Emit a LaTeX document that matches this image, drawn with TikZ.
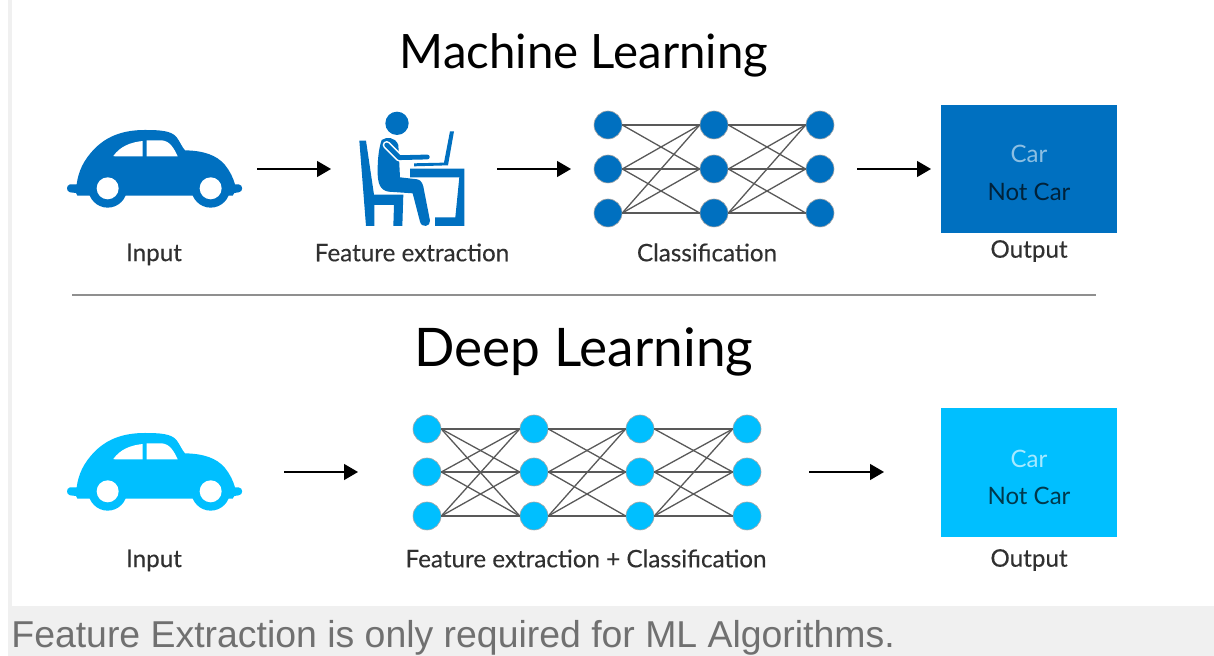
\documentclass[tikz,border=0pt]{standalone}
\usepackage{fontspec}
\usetikzlibrary{arrows.meta}
\setmainfont{Lato}
\newfontfamily\capfont{Liberation Sans}
\newfontfamily\labelfont[FakeBold=0.25]{Lato}
\definecolor{mlblue}{HTML}{0070C0}
\definecolor{dlblue}{HTML}{00BFFF}
\definecolor{bandgray}{HTML}{F0F0F0}
\definecolor{capgray}{HTML}{707070}
\definecolor{inktext}{HTML}{303030}
\tikzset{
  x=0.5pt,y=-0.5pt,
  titletext/.style={font=\fontsize{23.7}{28}\selectfont,text=black,inner sep=0pt},
  labeltext/.style={font=\labelfont\fontsize{12.1}{14}\selectfont,text=inktext,inner sep=0pt},
  boxtext/.style={font=\fontsize{12}{14}\selectfont,inner sep=0pt},
  netedge/.style={draw=black!65,line width=0.65pt},
  flow/.style={draw=black,line width=0.65pt,-{Triangle[length=7pt,width=8pt]}},
  mlnode/.style={circle,fill=mlblue,draw=black!35,line width=0.3pt,minimum size=14pt,inner sep=0pt},
  dlnode/.style={circle,fill=dlblue,draw=black!35,line width=0.3pt,minimum size=14pt,inner sep=0pt},
  outbox/.style={minimum width=88pt,minimum height=64pt,inner sep=0pt},
  pics/car/.style={code={
    \begin{scope}[x=0.5pt/3,y=-0.5pt/3]
    \fill[#1] (60,283) -- (80,283) .. controls (85,245) and (100,210) .. (135,175)
      .. controls (175,135) and (225,120) .. (285,120)
      .. controls (330,120) and (365,122) .. (380,142)
      .. controls (390,155) and (395,170) .. (405,181)
      .. controls (460,182) and (500,195) .. (525,225)
      .. controls (540,243) and (550,265) .. (555,283)
      -- (566,283) .. controls (580,284) and (580,306) .. (566,307)
      -- (553,309) -- (548,317) -- (82,317) -- (78,309) -- (60,307)
      .. controls (48,304) and (48,286) .. (60,283) -- cycle;
    \fill[#1] (173,295) circle[radius=58*0.5pt/3];
    \fill[#1] (482,295) circle[radius=58*0.5pt/3];
    \fill[white] (173,295) circle[radius=33*0.5pt/3];
    \fill[white] (482,295) circle[radius=33*0.5pt/3];
    \fill[white] (190,198) .. controls (210,170) and (240,157) .. (278,153) -- (278,199) -- (195,199) -- cycle;
    \fill[white] (290,151) -- (335,151) .. controls (360,153) and (372,175) .. (383,199) -- (290,199) -- cycle;
    \end{scope}
  }},
}
\begin{document}
\begin{tikzpicture}
\useasboundingbox (0,0) rectangle (1214,656);
\fill[white] (0,0) rectangle (1214,656);
\fill[bandgray] (8,0) rectangle (12,606);
\fill[bandgray] (8,606) rectangle (1214,656);
\node[anchor=west,font=\capfont\fontsize{18.7}{22}\selectfont,text=capgray,inner sep=0pt] (cap) at (11,638) {Feature Extraction is only required for ML Algorithms.};

\node[titletext] (t1) at (584,55) {Machine Learning};
\node[titletext,font=\fontsize{26.6}{30}\selectfont] (t2) at (584,352) {Deep Learning};
\coordinate (dl) at (72,295); \coordinate (dr) at (1096,295);
\draw[draw=black!44,line width=1.4pt] (dl) -- (dr);

% cars
\pic at (50,90) {car=mlblue};
\pic at (50,393) {car=dlblue};

% person
\begin{scope}[shift={(340,90)},x=0.5pt/3,y=-0.5pt/3]
\fill[mlblue] (171,100) circle[radius=35*0.5pt/3];
\fill[mlblue] (58,152) -- (78,152) -- (102,314) -- (190,314) -- (187,408) -- (160,408) -- (162,345) -- (103,345) -- (103,408) -- (78,408) -- cycle;
\fill[mlblue] (125,150) .. controls (140,140) and (165,140) .. (175,165) -- (180,262) -- (232,268)
  .. controls (245,270) and (250,285) .. (252,300) -- (270,392)
  .. controls (272,410) and (245,415) .. (240,395) -- (218,310) -- (145,305)
  .. controls (120,300) and (112,280) .. (113,240) .. controls (113,200) and (118,170) .. (125,150) -- cycle;
\draw[white,line width=4pt,line cap=round,line join=round] (140,165) -- (178,203) -- (262,201);
\draw[mlblue,line width=2.4pt,line cap=round,line join=round] (140,165) -- (178,203) -- (262,201);
\fill[mlblue] (330,124) -- (342,124) -- (324,226) -- (222,229) -- (222,220) -- (312,218) -- cycle;
\fill[mlblue] (210,236) -- (373,236) -- (373,408) -- (285,408) -- (285,382) -- (346,382) -- (358,262) -- (210,262) -- cycle;
\end{scope}

% ML network
\foreach \c/\x in {a/608,b/714,c/820}
  \foreach \r/\y in {1/125,2/169,3/213}
    \node[mlnode] (m\c\r) at (\x,\y) {};
\foreach \p/\q in {a/b,b/c}{
  \foreach \i/\j in {1/1,1/2,2/1,2/2,2/3,3/1,3/2,3/3}
    \draw[netedge] (m\p\i.east) -- (m\q\j.west);
}
% DL network
\foreach \c/\x in {a/427,b/534,c/640,d/747}
  \foreach \r/\y in {1/429,2/472,3/516}
    \node[dlnode] (d\c\r) at (\x,\y) {};
\draw[netedge] (da1.east) -- (db3.west);
\foreach \p/\q in {a/b,b/c,c/d}{
  \foreach \i/\j in {1/1,1/2,2/1,2/2,2/3,3/1,3/2,3/3}
    \draw[netedge] (d\p\i.east) -- (d\q\j.west);
}

% output boxes
\node[outbox,fill=mlblue] (o1) at (1029,169) {};
\node[outbox,fill=dlblue,minimum height=64.5pt] (o2) at (1029,472.5) {};
\node[boxtext,text=mlblue!45!white] (o1a) at (1029,154) {Car};
\node[boxtext,text=black!70!mlblue] (o1b) at (1029,192) {Not Car};
\node[boxtext,text=dlblue!35!white] (o2a) at (1029,459) {Car};
\node[boxtext,text=black!70!dlblue] (o2b) at (1029,496) {Not Car};

% arrows
\coordinate (a1s) at (257,169); \coordinate (a1e) at (331,169);
\coordinate (a2s) at (497,169); \coordinate (a2e) at (571,169);
\coordinate (a3s) at (857,169); \coordinate (a3e) at (931,169);
\coordinate (a4s) at (284,472); \coordinate (a4e) at (358,472);
\coordinate (a5s) at (809,472); \coordinate (a5e) at (884,472);
\draw[flow] (a1s) -- (a1e);
\draw[flow] (a2s) -- (a2e);
\draw[flow] (a3s) -- (a3e);
\draw[flow] (a4s) -- (a4e);
\draw[flow] (a5s) -- (a5e);

% labels
\node[labeltext] (l1) at (154,254.5) {Input};
\node[labeltext] (l2) at (412,252.5) {Feature extraction};
\node[labeltext] (l3) at (707,252.5) {Classification};
\node[labeltext] (l4) at (1029,251) {Output};
\node[labeltext] (l5) at (154,560.5) {Input};
\node[labeltext] (l6) at (586,558.5) {Feature extraction + Classification};
\node[labeltext] (l7) at (1029,560) {Output};
\end{tikzpicture}
\end{document}
